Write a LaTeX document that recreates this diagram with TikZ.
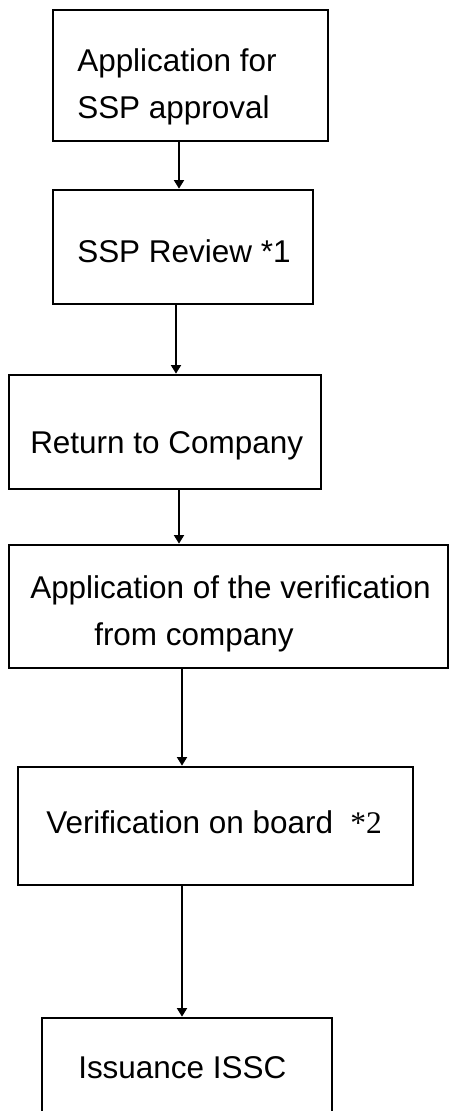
\documentclass[tikz,border=0pt]{standalone}
\usepackage{fontspec}
\setmainfont{Liberation Sans}
\newfontfamily\notefont{Liberation Serif}
\usetikzlibrary{arrows.meta}

\tikzset{
  stagebox/.style={draw=black, line width=2pt, fill=white, inner sep=0pt},
  stagetxt/.style={inner sep=0pt, anchor=base west, align=left,
                   font=\fontsize{23.6pt}{35.2pt}\selectfont},
  flowarrow/.style={line width=1.5pt,
                    -{Triangle[length=6.5pt,width=7.5pt]}}
}

\begin{document}
\begin{tikzpicture}[x=0.75pt,y=-0.75pt]
%    \draw (0,0) rectangle (449,1111);
    \clip (0,0) rectangle (449,1111);
    \fill[white] (0,0) rectangle (449,1111);
      \node[stagebox, minimum width=206.25pt, minimum height=98.25pt] (apply) at (190.5,75.5) {};
      \node[stagebox, minimum width=195pt, minimum height=85.5pt] (review) at (183,247) {};
      \node[stagebox, minimum width=234pt, minimum height=85.5pt] (return) at (165,432) {};
      \node[stagebox, minimum width=329.25pt, minimum height=92.25pt] (verifapp) at (228.5,606.5) {};
      \node[stagebox, minimum width=296.25pt, minimum height=88.5pt] (onboard) at (215.5,826) {};
      \node[stagebox, minimum width=217.5pt, minimum height=84pt] (issue) at (187,1074) {};

      % multi-line nodes sit on the baseline of their last line
      \node[stagetxt] (applytxt) at (77,118) {Application for\\SSP approval};
      \node[stagetxt] (reviewtxt) at (77,262) {SSP Review *1};
      \node[stagetxt] (returntxt) at (30,453) {Return to Company};
      \node[stagetxt] (verifapptxt) at (30,645) {Application of the verification\\\hspace*{48pt}from company};
      \node[stagetxt] (onboardtxt) at (46,833) {Verification on board\hspace{13pt}{\notefont *2}};
      \node[stagetxt] (issuetxt) at (78,1078) {Issuance ISSC};

      \draw[flowarrow] (apply.south -| 179,0) -- (review.north -| 179,0);
      \draw[flowarrow] (review.south -| 176,0) -- (return.north -| 176,0);
      \draw[flowarrow] (return.south -| 179,0) -- (verifapp.north -| 179,0);
      \draw[flowarrow] (verifapp.south -| 182,0) -- (onboard.north -| 182,0);
      \draw[flowarrow] (onboard.south -| 182,0) -- (issue.north -| 182,0);
    \end{tikzpicture}
\end{document}
